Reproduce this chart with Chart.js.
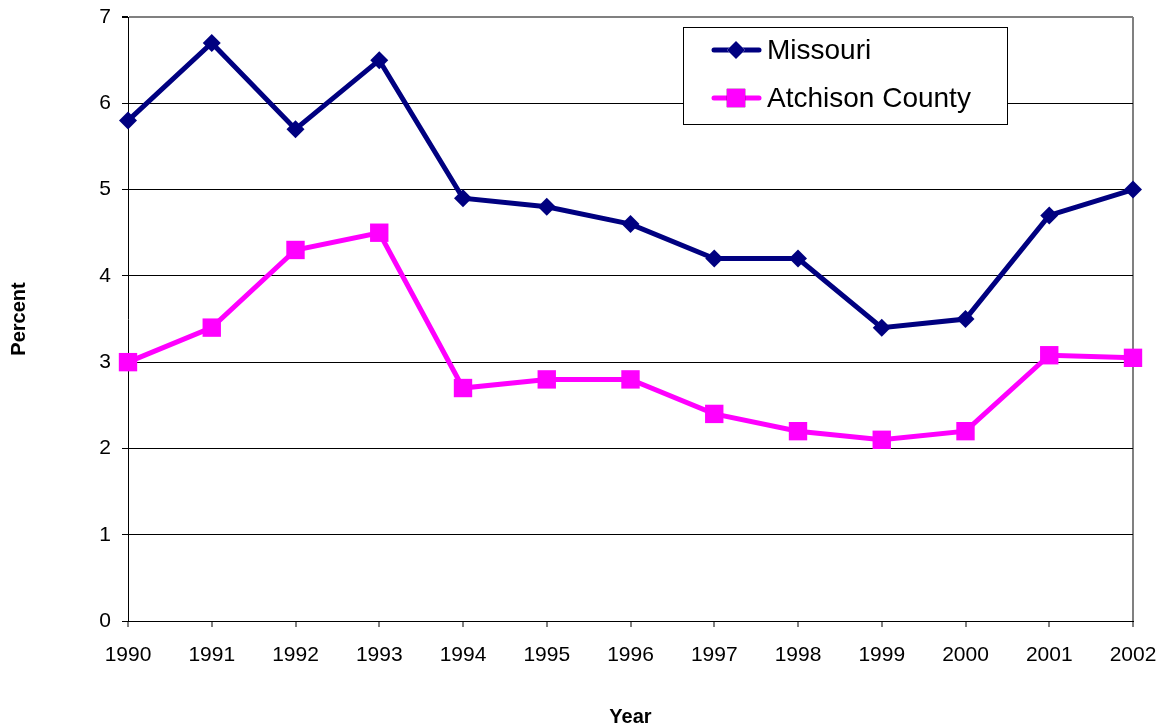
<!DOCTYPE html>
<html>
<head>
<meta charset="utf-8">
<script src="https://cdn.jsdelivr.net/npm/chart.js@4/dist/chart.umd.min.js"></script>
<style>
  html, body { margin: 0; padding: 0; background: #fff; }
  #wrap { width: 1160px; height: 727px; }
</style>
</head>
<body>
<div id="wrap"><canvas id="rateChart" width="1160" height="727"></canvas></div>
<script>
// ====== Data ======
const years = ["1990", "1991", "1992", "1993", "1994", "1995", "1996",
  "1997", "1998", "1999", "2000", "2001", "2002"];
const missouri = [5.8, 6.7, 5.7, 6.5, 4.9, 4.8, 4.6, 4.2, 4.2, 3.4, 3.5, 4.7, 5.0];
const atchison = [3.0, 3.4, 4.3, 4.5, 2.7, 2.8, 2.8, 2.4, 2.2, 2.1, 2.2, 3.08, 3.05];
const yTicks = [0, 1, 2, 3, 4, 5, 6, 7];

const FONT = "'Liberation Sans', Arial, sans-serif";
Chart.defaults.font.family = FONT;
Chart.defaults.color = "#000";

// ====== Legend box inside the plot ======
const boxLegend = {
  id: "boxLegend",
  afterDraw(chart) {
    const c = chart.ctx;
    const x0 = 683, y0 = 27, w = 324, h = 97;
    c.save();
    c.fillStyle = "#fff";
    c.fillRect(x0, y0, w, h);
    c.strokeStyle = "#000";
    c.lineWidth = 1;
    c.strokeRect(x0 + 0.5, y0 + 0.5, w, h);
    c.font = "28px " + FONT;
    c.textBaseline = "middle";
    const rows = [50, 98];
    chart.data.datasets.forEach((ds, i) => {
      const y = rows[i];
      c.strokeStyle = ds.borderColor;
      c.lineWidth = 5;
      c.lineCap = "round";
      c.beginPath();
      c.moveTo(714, y);
      c.lineTo(759, y);
      c.stroke();
      Chart.helpers.drawPoint(c, {
        pointStyle: ds.pointStyle,
        radius: ds.pointRadius,
        borderWidth: 0
      }, 736, y);
      c.fillStyle = ds.borderColor;
      c.fill();
      c.fillStyle = "#000";
      c.fillText(ds.label, 767, y + 1);
    });
    c.restore();
  }
};

// ====== Chart ======
const ctx = document.getElementById("rateChart").getContext("2d");

new Chart(ctx, {
  type: "line",
  data: {
    labels: years,
    datasets: [{
      label: "Missouri",
      data: missouri,
      borderColor: "#000080",
      backgroundColor: "#000080",
      borderWidth: 5,
      pointStyle: "rectRot",
      pointRadius: 9,
      pointBorderWidth: 0,
      tension: 0
    }, {
      label: "Atchison County",
      data: atchison,
      borderColor: "#ff00ff",
      backgroundColor: "#ff00ff",
      borderWidth: 5,
      pointStyle: "rect",
      pointRadius: 13,
      pointBorderWidth: 0,
      tension: 0
    }]
  },
  options: {
    responsive: false,
    animation: false,
    layout: { padding: { top: 17, right: 27, left: 0, bottom: 0 } },
    plugins: {
      legend: { display: false },
      tooltip: { enabled: false }
    },
    scales: {
      x: {
        offset: false,
        afterFit: (s) => {
          s.height = 106;
          s.paddingLeft = 0;
          s.paddingRight = 0;
        },
        grid: {
          color: (c) => c.index === years.length - 1 ? "#808080" : "rgba(0,0,0,0)",
          lineWidth: 2,
          tickColor: "#000",
          tickLength: 6,
          tickWidth: 1
        },
        border: { color: "#000", width: 1 },
        ticks: {
          font: { size: 21 },
          padding: 16,
          maxRotation: 0,
          autoSkip: false
        },
        title: {
          display: true,
          text: "Year",
          font: { size: 20, weight: "bold", lineHeight: 1 },
          padding: { top: 0, bottom: 0 }
        }
      },
      y: {
        min: 0,
        max: 7,
        afterFit: (s) => {
          s.width = 128;
          s.paddingTop = 0;
          s.paddingBottom = 0;
        },
        afterBuildTicks: (s) => { s.ticks = yTicks.map(v => ({ value: v })); },
        grid: {
          color: (c) => c.tick && c.tick.value === 7 ? "#808080" : "#000",
          lineWidth: (c) => c.tick && c.tick.value === 7 ? 2 : 1,
          tickColor: "#000",
          tickLength: 6
        },
        border: { color: "#000", width: 1 },
        ticks: {
          font: { size: 21 },
          padding: 11
        },
        title: {
          display: true,
          text: "Percent",
          font: { size: 20, weight: "bold", lineHeight: 1 },
          padding: { top: 9, bottom: 0 }
        }
      }
    }
  },
  plugins: [boxLegend]
});
</script>
</body>
</html>
